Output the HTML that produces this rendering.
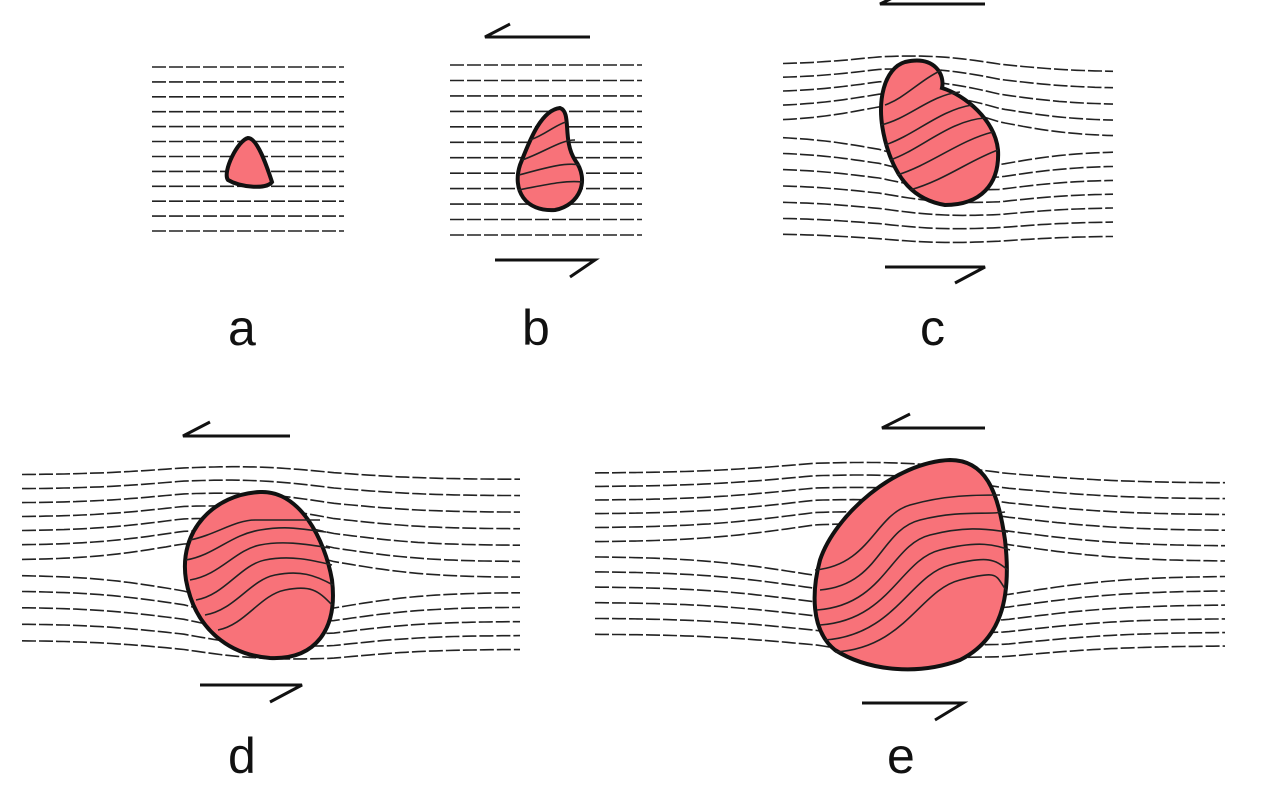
<!DOCTYPE html>
<html><head><style>
html,body{margin:0;padding:0;background:#fff;width:1282px;height:789px;overflow:hidden}
svg{display:block}
text{font-family:"Liberation Sans",sans-serif;font-size:50px;fill:#111}
</style></head><body>
<svg id="s" width="1282" height="789" viewBox="0 0 1282 789">
<g id="lines" fill="none" stroke="#222" stroke-width="1.6" stroke-dasharray="14 3"></g>
<g fill="#f87279" stroke="#111" stroke-width="4">
<path d="M248,138 C258,138 268,170 272,182 C266,190 240,187 228,180 C222,172 238,140 248,138 Z"/>
<path d="M560,108 C572,112 562,140 575,160 C590,180 580,205 555,210 C525,212 512,190 520,165 C528,145 540,110 560,108 Z"/>
<path d="M905,62 C935,55 945,75 942,88 C965,95 995,120 998,150 C1000,185 980,205 945,205 C915,200 895,180 885,140 C875,100 885,68 905,62 Z"/>
<path d="M260,492 C300,490 325,540 332,580 C338,630 315,660 270,658 C230,655 195,630 186,580 C178,530 215,494 260,492 Z"/>
<path d="M950,460 C985,460 998,490 1005,540 C1012,600 1000,640 960,660 C920,675 870,672 835,650 C810,630 812,590 820,560 C835,515 895,462 950,460 Z"/>
</g>
<g fill="none" stroke="#222" stroke-width="1.6">
<path d="M530,140 C545,135 555,125 566,122"/><path d="M522,160 C545,152 560,140 575,140"/>
<path d="M519,175 C545,168 565,162 580,165"/><path d="M518,190 C545,185 565,180 582,182"/>
<path d="M885,105 C905,98 920,80 942,70"/><path d="M881,125 C910,118 930,95 960,92"/>
<path d="M885,145 C915,135 940,110 972,105"/><path d="M890,160 C920,150 950,120 985,118"/>
<path d="M897,175 C930,165 960,140 993,132"/><path d="M910,190 C945,180 970,160 998,150"/>
<path d="M190,540 C215,535 235,520 255,520 S300,520 320,520"/>
<path d="M186,560 C215,555 230,535 260,530 S305,530 326,532"/>
<path d="M190,580 C220,575 235,550 260,545 S310,545 330,548"/>
<path d="M196,600 C225,595 240,565 265,560 S312,560 332,565"/>
<path d="M205,615 C235,610 250,580 275,575 S315,575 333,585"/>
<path d="M218,630 C245,625 260,595 285,590 S318,590 332,605"/>
<path d="M820,590 C880,585 880,530 920,520 S985,515 1005,512"/>
<path d="M817,610 C885,605 890,545 930,535 S990,530 1008,532"/>
<path d="M820,625 C890,620 900,560 940,550 S995,545 1010,550"/>
<path d="M825,640 C895,635 910,575 950,565 S995,560 1008,570"/>
<path d="M835,652 C905,648 920,590 960,580 S995,575 1006,590"/>
<path d="M815,570 C870,565 875,515 910,505 S975,495 1000,495"/>
</g>
<g fill="none" stroke="#111" stroke-width="3">
<path d="M510,24 L485,37 L590,37"/><path d="M495,260 L595,260 L570,277"/>
<path d="M905,-8 L880,4 L985,4"/><path d="M885,267 L985,267 L955,283"/>
<path d="M210,422 L183,436 L290,436"/><path d="M200,685 L302,685 L270,702"/>
<path d="M910,414 L882,428 L985,428"/><path d="M862,703 L963,703 L935,720"/>
</g>
<text x="228" y="345">a</text><text x="522" y="345">b</text><text x="920" y="345">c</text>
<text x="228" y="773">d</text><text x="887" y="773">e</text>
</svg>
<script>
var g=document.getElementById('lines');
function panel(x0,x1,y0,y1,n,cx,cy,rx,ry,amp){
 for(var i=0;i<n;i++){var y=y0+(y1-y0)*i/(n-1);var d='';
  for(var x=x0;x<=x1;x+=6){var t=(x-cx)/(rx*1.6);var f=Math.exp(-t*t);
   var rel=(y-cy)/ry;var dy=0;
   if(amp>0){var s=rel<0?-1:1;var k=Math.exp(-Math.abs(rel)*0.8);dy=s*amp*f*k;
    dy+= (x>cx? 1:-1)*amp*0.35*Math.exp(-rel*rel)*Math.min(1,Math.abs(x-cx)/rx);}
   d+=(x==x0?'M':'L')+x+','+(y+dy).toFixed(1);}
  var p=document.createElementNS('http://www.w3.org/2000/svg','path');p.setAttribute('d',d);g.appendChild(p);}
}
panel(152,345,67,231,12,248,163,25,25,0);
panel(450,643,65,235,12,550,160,35,50,0);
panel(783,1115,68,235,12,940,132,60,75,22);
panel(22,525,477,645,12,258,575,75,85,25);
panel(595,1230,478,640,12,910,565,95,105,28);
</script>
</body></html>
